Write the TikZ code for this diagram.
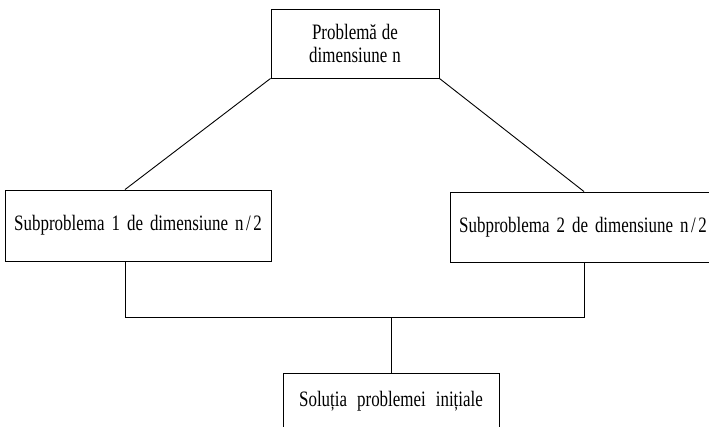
\documentclass[tikz,border=0pt]{standalone}
\usepackage{fontspec}
\setmainfont{Liberation Serif}[FakeStretch=0.77]
\usepackage{tikz}

\newcommand{\boxfont}[1]{\fontsize{22}{23}\selectfont\spaceskip=#1\relax}

\begin{document}
\begin{tikzpicture}[x=1pt,y=-1pt,line width=0.9pt]
      \tikzstyle{box}=[rectangle,draw=black,line width=0.9pt,inner sep=0pt,align=center,
        font=\boxfont{7pt}]

      \useasboundingbox (0,0) rectangle (709,426);
      \clip (0,0) rectangle (709,426);

      \node[box,minimum width=168pt,minimum height=69pt,font=\boxfont{5pt}] (prob) at (355,43.5)
        {Problemă de\\dimensiune n};
      \node[box,minimum width=266pt,minimum height=71pt] (sub1) at (138,225.5)
        {Subproblema 1 de dimensiune n\kern2.5pt/\kern2.5pt2};
      \node[box,minimum width=266pt,minimum height=70pt] (sub2) at (583,227)
        {Subproblema 2 de dimensiune n\kern2.5pt/\kern2.5pt2};
      \node[box,minimum width=216pt,minimum height=56pt,font=\boxfont{10pt}]
        (sol) at (391,401) {Soluția problemei inițiale};

      % joints of the merge lines
      \coordinate (jl) at (125,317);
      \coordinate (jr) at (584,317);
      \coordinate (jm) at (391,317);

      \path
      (prob.south west) edge (sub1.north -| jl)
      (prob.south east) edge (sub2.north -| jr);

      \draw (sub1.south -| jl) -- (jl) -- (jr) -- (sub2.south -| jr);
      \draw (jm) -- (sol.north);
\end{tikzpicture}
\end{document}
